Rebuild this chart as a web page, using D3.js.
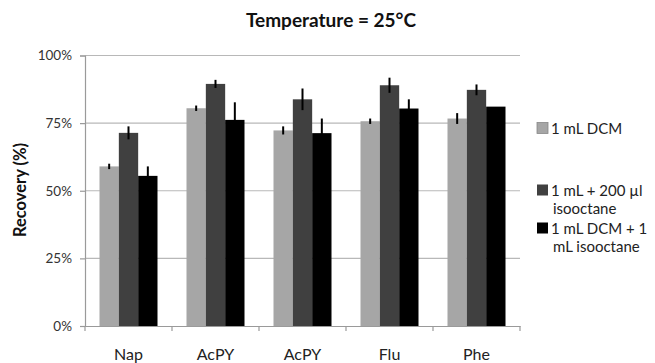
<!DOCTYPE html>
<html>
<head>
<meta charset="utf-8">
<script src="https://cdn.jsdelivr.net/npm/d3@7"></script>
<style>
  body { margin: 0; background: #fff; }
  svg { font-family: Lato, "Open Sans", sans-serif; }
</style>
</head>
<body>
<figure id="bar" style="margin:0"></figure>
<script>
// chart values
const categories = ["Nap", "AcPY", "AcPY", "Flu", "Phe"];
const seriesNames = ["1 mL DCM", "1 mL + 200 µl isooctane", "1 mL DCM + 1 mL isooctane"];
const dcm = [59, 80.5, 72.3, 75.7, 76.7];
const dcmErr = [1, 1, 1.5, 1, 2];
const iso200 = [71.4, 89.5, 83.8, 89, 87.3];
const iso200Err = [2.4, 1.5, 4, 2.8, 2];
const iso1 = [55.5, 76.2, 71.3, 80.4, 81.1];
const iso1Err = [3.5, 6.5, 5.4, 3.4, 0];
const yTicks = [0, 25, 50, 75, 100];

const legendLines = [["1 mL DCM"], ["1 mL + 200 µl", "isooctane"], ["1 mL DCM + 1", "mL isooctane"]];
const colors = ["#a6a6a6", "#404040", "#000000"];

const width = 655, height = 363;
const plotLeft = 85, plotRight = 520, plotTop = 55.5, plotBottom = 326;

const svg = d3.select("figure#bar")
  .append("svg")
  .attr("width", width)
  .attr("height", height);

const values = [dcm, iso200, iso1];
const errs = [dcmErr, iso200Err, iso1Err];

const x0 = d3.scaleBand()
  .domain(d3.range(categories.length))
  .range([plotLeft, plotRight])
  .padding(0);

const bw = x0.bandwidth();
const x1 = d3.scaleBand()
  .domain(d3.range(seriesNames.length))
  .range([bw * 0.75 / 4.5, bw - bw * 0.75 / 4.5])
  .padding(0);

const y = d3.scaleLinear()
  .domain([0, 100])
  .range([plotBottom, plotTop]);

// gridlines
svg.append("g")
  .selectAll("line")
  .data(yTicks.slice(1))
  .enter()
  .append("line")
  .attr("x1", plotLeft)
  .attr("x2", plotRight)
  .attr("y1", d => y(d))
  .attr("y2", d => y(d))
  .attr("stroke", "#b8b8b8")
  .attr("stroke-width", 1.2);

// y axis
const yAxis = svg.append("g")
  .attr("transform", "translate(" + plotLeft + ",0)")
  .call(d3.axisLeft(y).tickValues(yTicks).tickFormat(d => d + "%").tickSize(5).tickPadding(8));
yAxis.select(".domain").attr("stroke", "#9a9a9a").attr("stroke-width", 1.2);
yAxis.selectAll(".tick line").attr("stroke", "#9a9a9a").attr("stroke-width", 1.2);
yAxis.selectAll("text")
  .attr("font-size", 13.5)
  .attr("font-family", "Lato")
  .attr("fill", "#333");

// x axis
const xAxis = svg.append("g")
  .attr("transform", "translate(0," + plotBottom + ")")
  .call(d3.axisBottom(x0).tickSize(0).tickFormat(i => categories[i]).tickPadding(23));
xAxis.select(".domain").attr("stroke", "#9a9a9a").attr("stroke-width", 1.2);
xAxis.selectAll("text")
  .attr("font-size", 16)
  .attr("font-family", "Lato")
  .attr("fill", "#222");
// boundary ticks
svg.append("g")
  .selectAll("line")
  .data(d3.range(categories.length + 1))
  .enter()
  .append("line")
  .attr("x1", i => plotLeft + i * bw)
  .attr("x2", i => plotLeft + i * bw)
  .attr("y1", plotBottom)
  .attr("y2", plotBottom + 5)
  .attr("stroke", "#9a9a9a")
  .attr("stroke-width", 1.2);

// bars
const groups = svg.append("g")
  .selectAll("g")
  .data(categories.map((c, i) => i))
  .enter()
  .append("g")
  .attr("transform", i => "translate(" + x0(i) + ",0)");

groups.selectAll("rect")
  .data(i => values.map((v, s) => ({ s: s, v: v[i], e: errs[s][i] })))
  .enter()
  .append("rect")
  .attr("x", d => x1(d.s))
  .attr("y", d => y(d.v))
  .attr("width", x1.bandwidth())
  .attr("height", d => y(0) - y(d.v))
  .attr("fill", d => colors[d.s]);

// error bars
groups.selectAll("line.err")
  .data(i => values.map((v, s) => ({ s: s, v: v[i], e: errs[s][i] })).filter(d => d.e > 0))
  .enter()
  .append("line")
  .attr("class", "err")
  .attr("x1", d => x1(d.s) + x1.bandwidth() / 2)
  .attr("x2", d => x1(d.s) + x1.bandwidth() / 2)
  .attr("y1", d => y(d.v + d.e))
  .attr("y2", d => y(d.v - d.e))
  .attr("stroke", "#000")
  .attr("stroke-width", 2);

// title
svg.append("text")
  .attr("x", 331)
  .attr("y", 27)
  .attr("text-anchor", "middle")
  .attr("font-size", 19)
  .attr("font-weight", "bold")
  .attr("font-family", "Lato")
  .attr("fill", "#111")
  .text("Temperature = 25°C");

// y title
svg.append("text")
  .attr("transform", "translate(26,190) rotate(-90)")
  .attr("text-anchor", "middle")
  .attr("font-size", 16.5)
  .attr("font-weight", "bold")
  .attr("font-family", "Lato")
  .attr("fill", "#111")
  .text("Recovery (%)");

// legend
const legendY = [128, 190, 228];
const legend = svg.append("g")
  .selectAll("g")
  .data(legendLines)
  .enter()
  .append("g")
  .attr("transform", (d, i) => "translate(537," + legendY[i] + ")");

legend.append("rect")
  .attr("x", 0)
  .attr("y", -5.5)
  .attr("width", 11)
  .attr("height", 11)
  .attr("fill", (d, i) => colors[i])
  .attr("stroke", (d, i) => i == 0 ? "#888" : "none")
  .attr("stroke-width", 0.8);

legend.selectAll("text")
  .data(d => d)
  .enter()
  .append("text")
  .attr("x", (d, j) => j == 0 ? 14 : 16)
  .attr("y", (d, j) => 5.5 + j * 18.5)
  .attr("font-size", 15)
  .attr("font-family", "Lato")
  .attr("fill", "#222")
  .text(d => d);
</script>
</body>
</html>
